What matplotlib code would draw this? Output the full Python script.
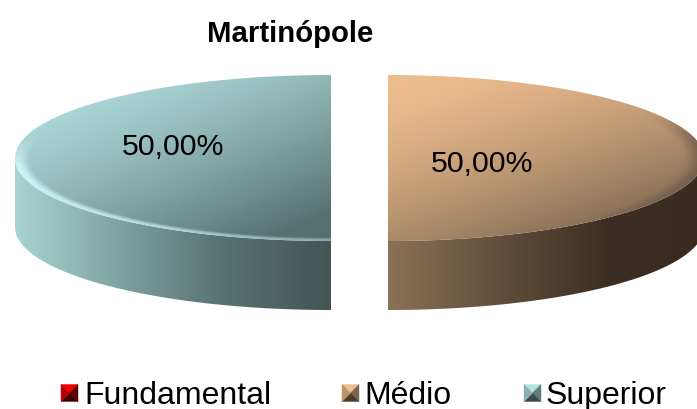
import numpy as np
import matplotlib
matplotlib.use("Agg")
import matplotlib.pyplot as plt
from matplotlib.colors import to_rgb
from matplotlib.patches import Polygon

plt.rcParams['font.family'] = ['Liberation Sans', 'DejaVu Sans']

# chart data
title = "Martinópole"
categories = ["Fundamental", "Médio", "Superior"]
values = [0.0, 50.0, 50.0]
value_labels = ["0,00%", "50,00%", "50,00%"]

# pie geometry in pixels
CX, CY = 359.5, 159
RX, RY = 316, 83
DEPTH = 69
EXPLODE = 28.5

# colours: light/dark of the top, stops of the side wall
top_colors = {"Médio": ("#eebe8e", "#7c6650"), "Superior": ("#b6e2e2", "#567070")}
side_colors = {
    "Médio": [(0.0, "#8a7256"), (0.3, "#675340"), (0.7, "#3c2e22"), (1.0, "#392b1f")],
    "Superior": [(0.0, "#a8d4d2"), (0.3, "#82a8a6"), (0.65, "#597272"), (1.0, "#435453")],
}
legend_colors = {
    "Fundamental": ("#f00000", "#b80000", "#600000", "#400000"),
    "Médio": ("#eebe8e", "#b89468", "#7a664e", "#4a3a28"),
    "Superior": ("#b6e2e2", "#88b0b0", "#607a7a", "#3c4c4c"),
}
label_pos = {"Médio": (482, 164), "Superior": (173.5, 147)}
legend_x = {"Fundamental": 61, "Médio": 342, "Superior": 524}
text_x = {"Fundamental": 84, "Médio": 364, "Superior": 546}


def mix(a, b, t):
    a, b = np.array(to_rgb(a)), np.array(to_rgb(b))
    t = np.clip(t, 0, 1)[..., None]
    return a * (1 - t) + b * t


def smooth(a, b, x):
    t = np.clip((x - a) / (b - a), 0, 1)
    return t * t * (3 - 2 * t)


def arc(cx, cy, a0, a1, n=200):
    th = np.radians(np.linspace(a0, a1, n))
    return np.column_stack([cx + RX * np.cos(th), cy - RY * np.sin(th)])


def top_image(name, cx, x, y):
    light, dark = top_colors[name]
    r = np.hypot((x - cx) / RX, (y - CY) / RY)
    if cx < CX:
        u, v = (x - (cx - RX)) / RX, (y - (CY - RY)) / (2 * RY)
        img = mix(light, dark, np.clip(0.5 * u + 0.6 * v, 0, 1.2) ** 1.4)
        # pale rim along the lower left edge
        lower = smooth(-0.3, 0.15, (y - CY) / RY)
        glow = smooth(0.95, 0.99, r) * lower * (0.4 + 0.4 * (1 - u))
        img = img + (np.array(to_rgb("#d8ffff")) - img) * glow[..., None]
    else:
        u, v = (x - cx) / RX, (y - (CY - RY)) / (2 * RY)
        img = mix(light, dark, np.clip(0.45 * u + 0.7 * v, 0, 1.2) ** 1.5)
        # dull rim towards the right edge, only near the tip
        edge = smooth(0.93, 1.0, r) * smooth(0.55, 0.95, u) * smooth(0.2, 0.45, v)
        img = img + (np.array(to_rgb("#6c5a48")) - img) * (edge * 0.8)[..., None]
    return img


def side_image(name, x):
    stops = side_colors[name]
    pos = [s[0] for s in stops]
    rgb = np.array([to_rgb(s[1]) for s in stops])
    return np.stack([np.interp(x, pos, rgb[:, i]) for i in range(3)], axis=-1)


def clipped_image(ax, img, extent, verts):
    im = ax.imshow(img, extent=extent, origin="upper", aspect="auto",
                   interpolation="bilinear", zorder=2)
    clip = Polygon(verts, closed=True, transform=ax.transData, fc="none", ec="none")
    ax.add_patch(clip)
    im.set_clip_path(clip)


fig = plt.figure(figsize=(6.97, 4.10), dpi=100, facecolor="white")
ax = fig.add_axes([0, 0, 1, 1])

# slices go clockwise from 12 o'clock
angle = 90.0
total = sum(values)
for name, val, lab in zip(categories, values, value_labels):
    sweep = 360.0 * val / total
    if sweep == 0:
        continue
    a0, a1 = angle, angle - sweep
    angle = a1
    mid = np.radians((a0 + a1) / 2)
    cx = CX + EXPLODE * np.cos(mid)

    # side wall: only the part of the rim facing the viewer
    lo_a0, lo_a1 = (min(a0, 0), a1) if cx > CX else (-90, max(a1, -180))
    rim = arc(cx, CY, lo_a0, lo_a1)
    wall = np.vstack([rim, (rim + [0, DEPTH])[::-1]])
    xs = np.arange(0, 697) + 0.5
    frac = (xs - cx) / RX if cx > CX else (xs - (cx - RX)) / RX
    clipped_image(ax, side_image(name, frac)[None, :, :], (0, 697, 410, 0), wall)

    # top face
    yy, xx = np.mgrid[0:410, 0:697] + 0.5
    face = np.vstack([[[cx, CY]], arc(cx, CY, a0, a1)])
    clipped_image(ax, top_image(name, cx, xx, yy), (0, 697, 410, 0), face)

    lx, ly = label_pos[name]
    ax.text(lx, ly, lab, fontsize=21.8, color="black", ha="center", va="center", zorder=4)

ax.text(290.5, 34, title, fontsize=21.2, fontweight="bold", color="black",
        ha="center", va="center", zorder=4)

# legend keys are little pyramids
for name in categories:
    x0 = legend_x[name]
    y0, s = 385.5, 17
    mid = (x0 + s / 2, y0 + s / 2)
    corners = [(x0, y0), (x0 + s, y0), (x0 + s, y0 + s), (x0, y0 + s)]
    tc, lc, rc, bc = legend_colors[name]
    for i, col in zip(range(4), (tc, rc, bc, lc)):
        ax.add_patch(Polygon([corners[i], corners[(i + 1) % 4], mid], closed=True,
                             fc=col, ec=col, lw=0.3, zorder=3))
    ax.text(text_x[name], 396, name, fontsize=23, color="black",
            ha="left", va="center", zorder=4)

ax.set_xlim(0, 697)
ax.set_ylim(410, 0)
ax.axis("off")

fig.savefig("out.png", dpi=100, facecolor="white")
